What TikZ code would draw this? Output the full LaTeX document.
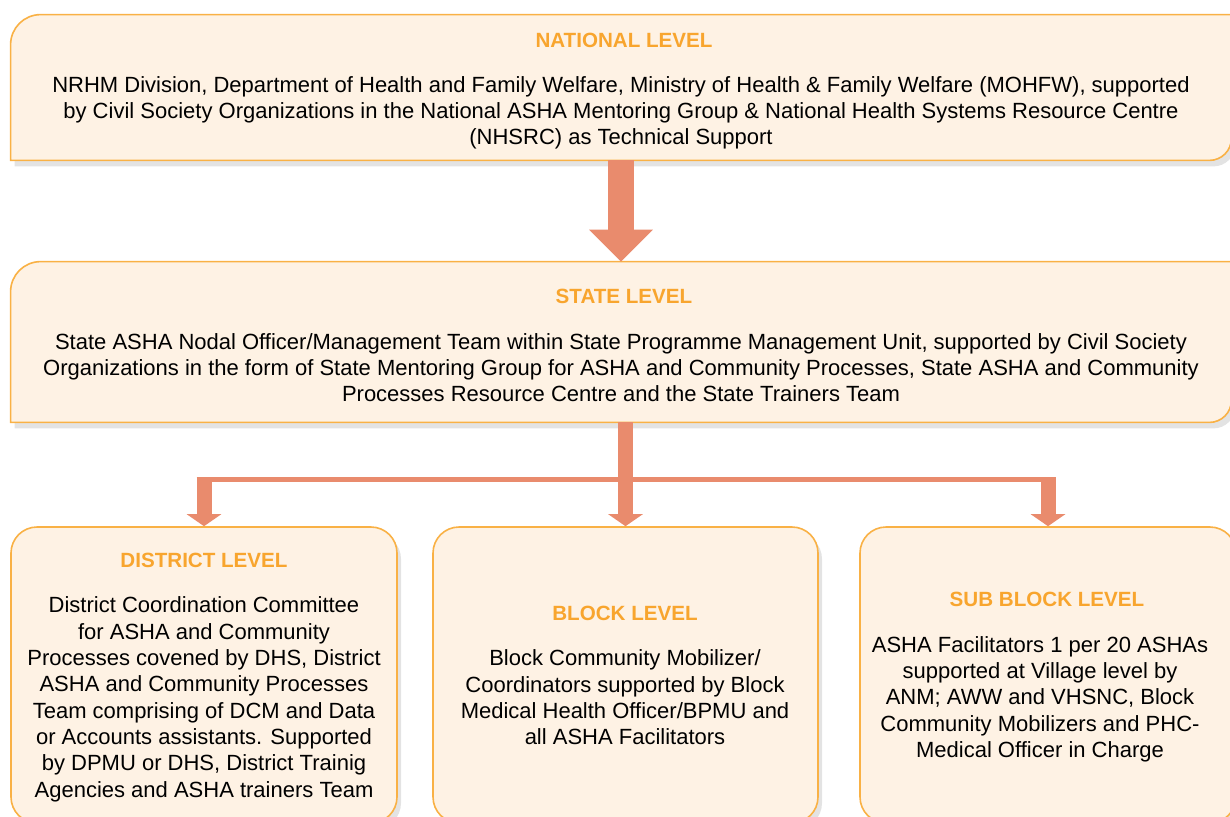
\documentclass[tikz,border=0pt]{standalone}
\usepackage{fontspec}
\setmainfont{Liberation Sans}
\usetikzlibrary{positioning,arrows.meta,shadows}

\definecolor{boxfill}{HTML}{FEF2E4}
\definecolor{boxline}{HTML}{F9B145}
\definecolor{titleorange}{HTML}{F8A52E}
\definecolor{arrowred}{HTML}{E98B6D}

\tikzset{
  panel/.style={draw=boxline, fill=boxfill, line width=0.8pt,
    drop shadow={shadow xshift=2pt, shadow yshift=-3pt, opacity=0.22}},
  slot/.style={inner sep=0pt, draw=none},
  levelbox/.style={panel, rectangle, rounded corners=13pt, inner sep=0pt, minimum height=148pt},
  lvltitle/.style={inner sep=0pt, text=titleorange, font=\fontsize{10.3}{12}\selectfont\bfseries},
  lvltext/.style={inner sep=0pt, align=center, anchor=north, font=\fontsize{11}{13.15}\selectfont},
  bigarrow/.style={color=arrowred, line width=13pt, -{Triangle[width=31pt,length=16pt]}},
  droparrow/.style={color=arrowred, line width=7.5pt, -{Triangle[width=17pt,length=6pt]}},
  branchbar/.style={color=arrowred, line width=2.5pt}
}

\begin{document}
\begin{tikzpicture}[x=0.5pt,y=0.5pt]
  \useasboundingbox (0,0) rectangle (1230,-816);
  \clip (0,0) rectangle (1230,-816);

  % level boxes
  \node[slot, minimum width=610pt, minimum height=72.5pt] (nat) at (621,-87.5) {};
  \node[slot, minimum width=610pt, minimum height=80pt] (state) at (621,-342) {};
  \foreach \b in {nat,state}
    \draw[panel] (\b.south west) -- ([yshift=-15pt]\b.north west)
      arc[start angle=180, end angle=90, radius=15pt] -- (\b.north east)
      -- ([yshift=11pt]\b.south east) arc[start angle=0, end angle=-90, radius=11pt] -- cycle;

  \node[levelbox, minimum width=193pt] (dist) at (204,-675) {};
  \node[levelbox, minimum width=192.5pt] (block) at (625.5,-675) {};
  \node[levelbox, minimum width=188pt] (sub) at (1048,-675) {};

  % texts
  \node[lvltitle, anchor=base] (natT) at (624,-47) {NATIONAL LEVEL};
  \node[lvltext] (natB) at (621,-76) {NRHM Division, Department of Health and Family Welfare, Ministry of Health \& Family Welfare (MOHFW), supported\\
    by Civil Society Organizations in the National ASHA Mentoring Group \& National Health Systems Resource Centre\\
    (NHSRC) as Technical Support};

  \node[lvltitle, anchor=base] (stateT) at (624,-303) {STATE LEVEL};
  \node[lvltext] (stateB) at (621,-333) {State ASHA Nodal Officer/Management Team within State Programme Management Unit, supported by Civil Society\\
    Organizations in the form of State Mentoring Group for ASHA and Community Processes, State ASHA and Community\\
    Processes Resource Centre and the State Trainers Team};

  \node[lvltitle, anchor=base] (distT) at (204,-567) {DISTRICT LEVEL};
  \node[lvltext, below=14.5pt of distT] (distB) {District Coordination Committee\\
    for ASHA and Community\\
    Processes covened by DHS, District\\
    ASHA and Community Processes\\
    Team comprising of DCM and Data\\
    or Accounts assistants. Supported\\
    by DPMU or DHS, District Trainig\\
    Agencies and ASHA trainers Team};

  \node[lvltitle, anchor=base] (blockT) at (625,-620) {BLOCK LEVEL};
  \node[lvltext, below=14.5pt of blockT] (blockB) {Block Community Mobilizer/\\
    Coordinators supported by Block\\
    Medical Health Officer/BPMU and\\
    all ASHA Facilitators};

  \node[lvltitle, anchor=base] (subT) at (1047,-606) {SUB BLOCK LEVEL};
  \node[lvltext] (subB) at (1040,-636) {ASHA Facilitators 1 per 20 ASHAs\\
    supported at Village level by\\
    ANM; AWW and VHSNC, Block\\
    Community Mobilizers and PHC-\\
    Medical Officer in Charge};

  % arrows
  \draw[bigarrow] (nat.south) -- (state.north);

  \coordinate (bartop) at (0,-477);
  \coordinate (barmid) at (0,-479.5);
  \draw[branchbar] ([xshift=-3.75pt]dist.north |- barmid) -- ([xshift=3.75pt]sub.north |- barmid);
  \draw[droparrow] (dist.north |- bartop) -- (dist.north);
  \draw[droparrow] (block.north |- state.south) -- (block.north);
  \draw[droparrow] (sub.north |- bartop) -- (sub.north);
\end{tikzpicture}
\end{document}
